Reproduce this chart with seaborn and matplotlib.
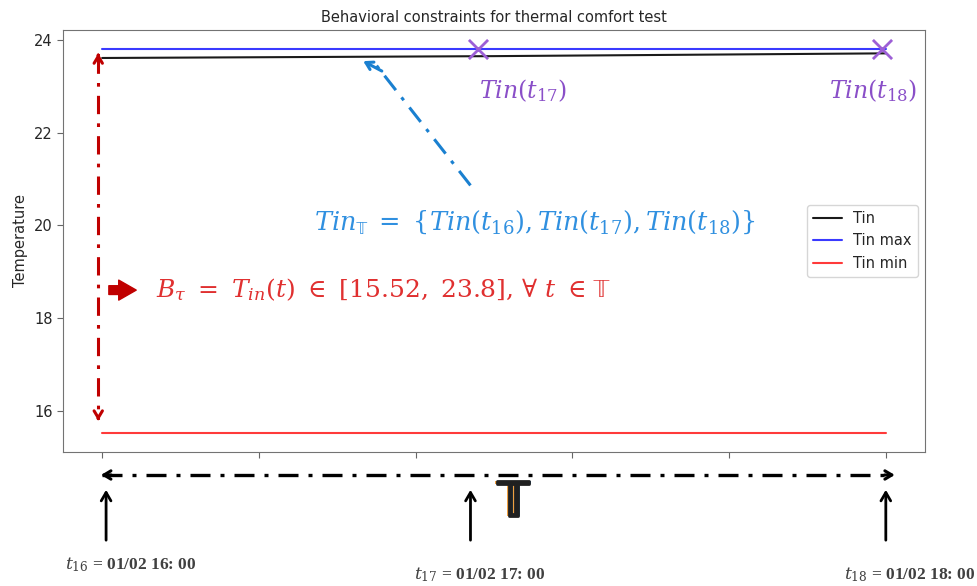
import numpy as np
import pandas as pd
import matplotlib
matplotlib.use('Agg')
import matplotlib.pyplot as plt
import matplotlib.patheffects as pe
import seaborn as sns

# hours of the test day (t16, t17, t18)
hours = [16, 17, 18]
tin = [23.61, 23.65, 23.71]
tin_max = [23.8, 23.8, 23.8]
tin_min = [15.52, 15.52, 15.52]

# purple crosses marking Tin(t17), Tin(t18)
cross_hours = [16.96, 17.99]
cross_temp = [23.8, 23.8]

time_labels = [r'$t_{16}$ = 01/02 16: 00', r'$t_{17}$ = 01/02 17: 00', r'$t_{18}$ = 01/02 18: 00']
y_ticks = [16, 18, 20, 22, 24]

sns.set_style('ticks')
plt.rcParams['font.family'] = ['DejaVu Sans']
plt.rcParams['mathtext.fontset'] = 'dejavuserif'

df = pd.DataFrame({'hour': hours * 3,
                   'temp': tin + tin_max + tin_min,
                   'series': ['Tin'] * 3 + ['Tin max'] * 3 + ['Tin min'] * 3})

fig = plt.figure(figsize=(9.78, 5.86), dpi=100)
ax = fig.add_axes([0.0644, 0.2287, 0.8814, 0.7201])

sns.lineplot(data=df, x='hour', y='temp', hue='series',
             palette={'Tin': '#1a1a1a', 'Tin max': '#3a3aff', 'Tin min': '#ff3a3a'},
             linewidth=1.5, ax=ax)
ax.scatter(cross_hours, cross_temp, marker='x', s=190, linewidths=2,
           color='#9d5fd6', zorder=5)

span = hours[-1] - hours[0]
ax.set_xlim(hours[0] - 0.05 * span, hours[-1] + 0.05 * span)
ax.autoscale(False)

ax.set_title('Behavioral constraints for thermal comfort test', fontsize=10.5, pad=6)
ax.set_ylabel('Temperature', fontsize=10.5)
ax.set_xlabel('')
ax.set_yticks(y_ticks)
ax.set_xticks(np.linspace(hours[0], hours[-1], 6))
ax.set_xticklabels([])
ax.tick_params(axis='both', labelsize=10.5, length=4, color='0.4')
for sp in ax.spines.values():
    sp.set_color('0.45')
    sp.set_visible(True)

handles, labels = ax.get_legend_handles_labels()
ax.legend(handles=handles, labels=labels, loc='center right', fontsize=10.5,
          frameon=True, edgecolor='0.8', fancybox=True)

dashdot = (0, (6, 3, 1.2, 3))
head = '->,head_length=0.5,head_width=0.3'

# red vertical dash-dot double arrow (constraint range)
red = '#c00000'
ax.plot([15.99, 15.99], [23.68, 15.82], color=red, lw=2.2, ls=dashdot)
ax.annotate('', xy=(15.99, 23.77), xytext=(15.99, 23.6),
            arrowprops=dict(arrowstyle=head, color=red, lw=2.2))
ax.annotate('', xy=(15.99, 15.72), xytext=(15.99, 15.9),
            arrowprops=dict(arrowstyle=head, color=red, lw=2.2))

# thick red pointer
ax.annotate('', xy=(16.094, 18.6), xytext=(16.01, 18.6),
            arrowprops=dict(arrowstyle='simple,head_length=0.7,head_width=0.8,tail_width=0.35',
                            color=red, mutation_scale=18))
ax.text(16.138, 18.6, r'$B_{\tau}\ =\ T_{in}(t)\ \in\ [15.52,\ 23.8],\,\forall\ t\ \in$',
        color='#e03030', fontsize=18, va='center', ha='left')
ax.text(17.25, 18.6, r'$\mathrm{\mathbb{T}}$', color='#e03030', fontsize=19, va='center',
        ha='left', math_fontfamily='stix')

# blue set annotation
blue = '#1a80d0'
ax.plot([16.94, 16.70], [20.86, 23.45], color=blue, lw=2.2, ls=dashdot)
ax.annotate('', xy=(16.66, 23.57), xytext=(16.72, 23.3),
            arrowprops=dict(arrowstyle=head, color=blue, lw=2.2))
ax.text(16.54, 20.06,
        r'$Tin_{\mathrm{\mathbb{T}}}\ =\ \{Tin(t_{16}),Tin(t_{17}),Tin(t_{18})\}$',
        color='#3090e0', fontsize=18.4, va='center', ha='left')

ax.text(17.075, 22.9, r'$Tin(t_{17})$', color='#8a4fc8', fontsize=17, ha='center', va='center')
ax.text(17.967, 22.9, r'$Tin(t_{18})$', color='#8a4fc8', fontsize=17, ha='center', va='center')

# time axis below the plot (x in data, y in axes fraction)
tr = ax.get_xaxis_transform()
ax.plot([16.0, 18.02], [-0.0545, -0.0545], color='black', lw=2.4,
        ls=dashdot, transform=tr, clip_on=False)
ax.annotate('', xy=(15.99, -0.0545), xytext=(16.03, -0.0545), xycoords=tr, textcoords=tr,
            arrowprops=dict(arrowstyle=head, color='black', lw=2.2))
ax.annotate('', xy=(18.03, -0.0545), xytext=(17.99, -0.0545), xycoords=tr, textcoords=tr,
            arrowprops=dict(arrowstyle=head, color='black', lw=2.2))
ax.text(17.05, -0.118, r'$\mathrm{\mathbb{T}}$', fontsize=38, ha='center', va='center',
        transform=tr, color='#202020', math_fontfamily='stix',
        path_effects=[pe.SimplePatchShadow(offset=(-1.5, 0), shadow_rgbFace='#f0a040', alpha=1),
                      pe.SimplePatchShadow(offset=(1.5, 0), shadow_rgbFace='#3090e0', alpha=1),
                      pe.withStroke(linewidth=2, foreground='#202020')])

arrow_x = [16.01, 16.94, 18.0]
label_x = [16.074, 16.963, 18.06]
label_y = [-0.268, -0.2915, -0.2915]
for ax_x, lx, ly, lab in zip(arrow_x, label_x, label_y, time_labels):
    ax.annotate('', xy=(ax_x, -0.083), xytext=(ax_x, -0.2156), xycoords=tr, textcoords=tr,
                arrowprops=dict(arrowstyle='->,head_length=0.6,head_width=0.35', color='black', lw=2))
    ax.text(lx, ly, lab, transform=tr, ha='center', va='center', fontsize=12.5,
            color='#404040', fontweight='bold', family='Liberation Serif')

plt.savefig('out.png', dpi=100)
